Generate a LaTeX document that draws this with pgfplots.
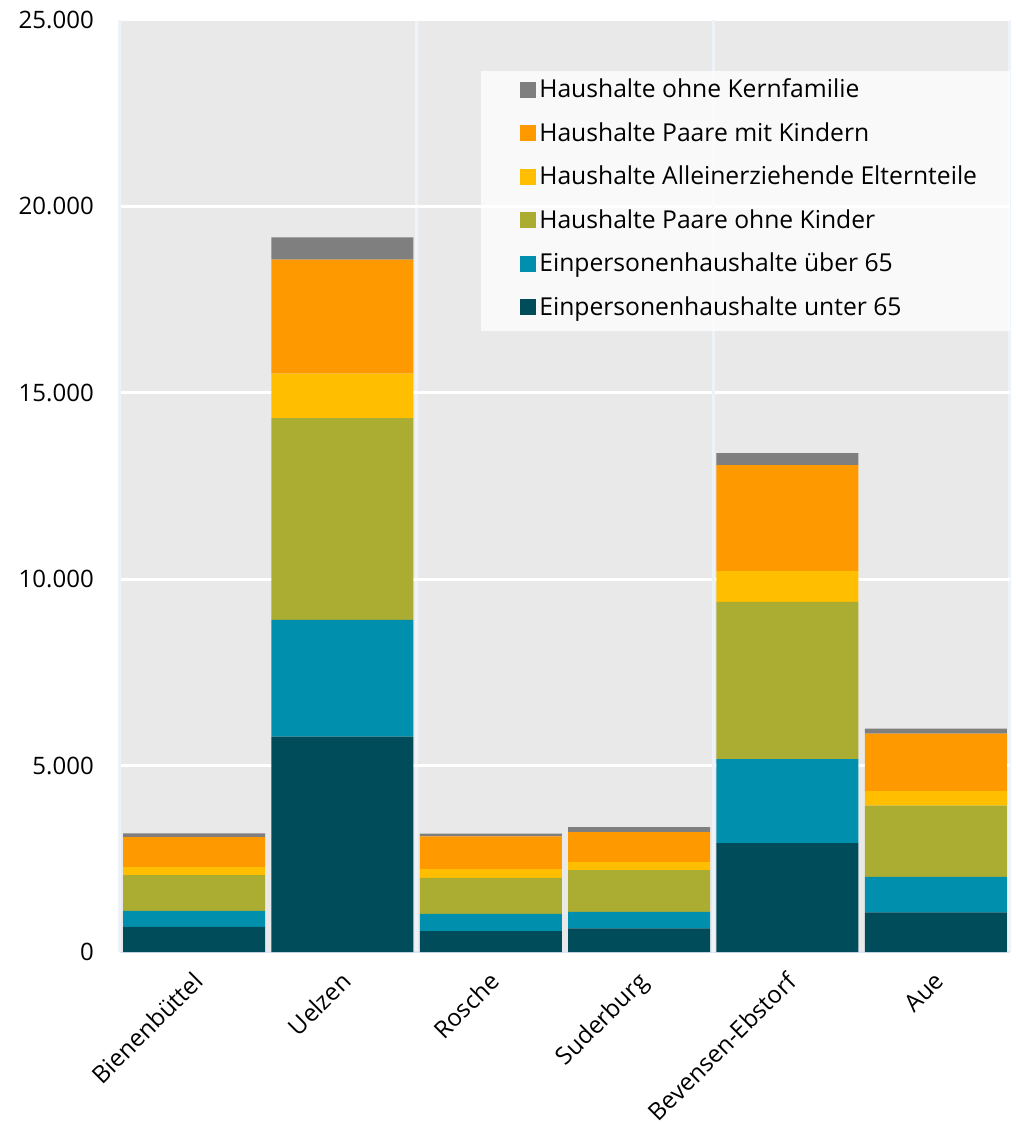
\documentclass[border=0pt]{standalone}
\usepackage{pgfplots}
\pgfplotsset{compat=1.18}
\usepackage{pgfplotstable}
\usepackage{fontspec}
\setmainfont{Open Sans}

\definecolor{cU}{HTML}{004C5A}   % Einpersonenhaushalte unter 65
\definecolor{cO}{HTML}{0090AD}   % Einpersonenhaushalte ueber 65
\definecolor{cP}{HTML}{ABAD33}   % Paare ohne Kinder
\definecolor{cA}{HTML}{FFBF00}   % Alleinerziehende
\definecolor{cK}{HTML}{FF9900}   % Paare mit Kindern
\definecolor{cN}{HTML}{7F7F7F}   % ohne Kernfamilie
\definecolor{bgc}{HTML}{E9E9E9}
\definecolor{vgrid}{HTML}{EEF3FA}
\definecolor{axc}{HTML}{DCE5F3}

% Haushalte je Gemeinde
\pgfplotstableread{
x  unter  ueber  paare  allein  kinder  ohne
0  676    430    958    215     805     99
1  5778   3132   5408   1197    3057    599
2  561    464    966    234     878     69
3  633    446    1119   215     805     134
4  2923   2254   4214   824     2845    322
5  1063   955    1906   394     1538    134
}\haushalte

\begin{document}
\begin{tikzpicture}
\begin{axis}[
  scale only axis, width=667.5pt, height=699pt,
  xmin=-0.5, xmax=5.5, ymin=0, ymax=25000,
  ybar stacked, bar width=106.5pt,
  axis background/.style={fill=bgc},
  axis x line*=bottom, axis y line*=left,
  axis line style={draw=axc, line width=1.5pt},
  font=\fontsize{18}{22}\selectfont,
  xtick={0,...,5},
  xticklabels={Bienenbüttel,Uelzen,Rosche,Suderburg,Bevensen-Ebstorf,Aue},
  x tick style={draw=none},
  xticklabel style={xshift=-2pt, yshift=-13.5pt, rotate=45, anchor=north east, inner sep=0pt},
  % group separators: light vertical lines every two municipalities
  extra x ticks={-0.5,3.5},
  extra x tick labels={},
  extra x tick style={grid=major, major grid style={draw=vgrid, line width=2.25pt},
    tick style={draw=axc, line width=1.2pt}, major tick length=7pt, tick align=outside},
  minor xtick={1.5,5.5},
  xminorgrids,
  minor grid style={draw=vgrid, line width=2.25pt},
  minor x tick style={draw=none},
  ytick={0,5000,...,25000},
  y tick style={draw=none},
  ymajorgrids, major grid style={draw=white, line width=2.25pt},
  scaled y ticks=false,
  /pgf/number format/assume math mode=true,
  /pgf/number format/1000 sep={.},
  yticklabel style={anchor=east, inner sep=0pt, xshift=-19.5pt},
  reverse legend,
  legend cell align=left,
  legend style={at={(1,0.946)}, anchor=north east,
    fill=white, fill opacity=0.75, text opacity=1, draw=none,
    font=\fontsize{18.5}{22}\selectfont,
    inner xsep=22pt, inner ysep=8pt, row sep=16.6pt,
    nodes={inner xsep=2.5pt, inner ysep=0pt, text height=12.5pt, text depth=3.5pt},
    /tikz/every even column/.append style={column sep=0pt}},
  legend image code/.code={\path (0pt,0pt);
    \fill[#1, fill opacity=1] (7pt,-4.5pt) rectangle (19pt,7.5pt);},
  every axis plot/.append style={draw=none},
]
\addplot[fill=cU] table[x=x, y=unter] {\haushalte};
\addlegendentry{Einpersonenhaushalte unter 65}
\addplot[fill=cO] table[x=x, y=ueber] {\haushalte};
\addlegendentry{Einpersonenhaushalte über 65}
\addplot[fill=cP] table[x=x, y=paare] {\haushalte};
\addlegendentry{Haushalte Paare ohne Kinder}
\addplot[fill=cA] table[x=x, y=allein] {\haushalte};
\addlegendentry{Haushalte Alleinerziehende Elternteile}
\addplot[fill=cK] table[x=x, y=kinder] {\haushalte};
\addlegendentry{Haushalte Paare mit Kindern}
\addplot[fill=cN] table[x=x, y=ohne] {\haushalte};
\addlegendentry{Haushalte ohne Kernfamilie}
\end{axis}
\pgfresetboundingbox
\path[use as bounding box] (-90pt,-129.75pt) rectangle (671.25pt,714pt);
\end{tikzpicture}
\end{document}
